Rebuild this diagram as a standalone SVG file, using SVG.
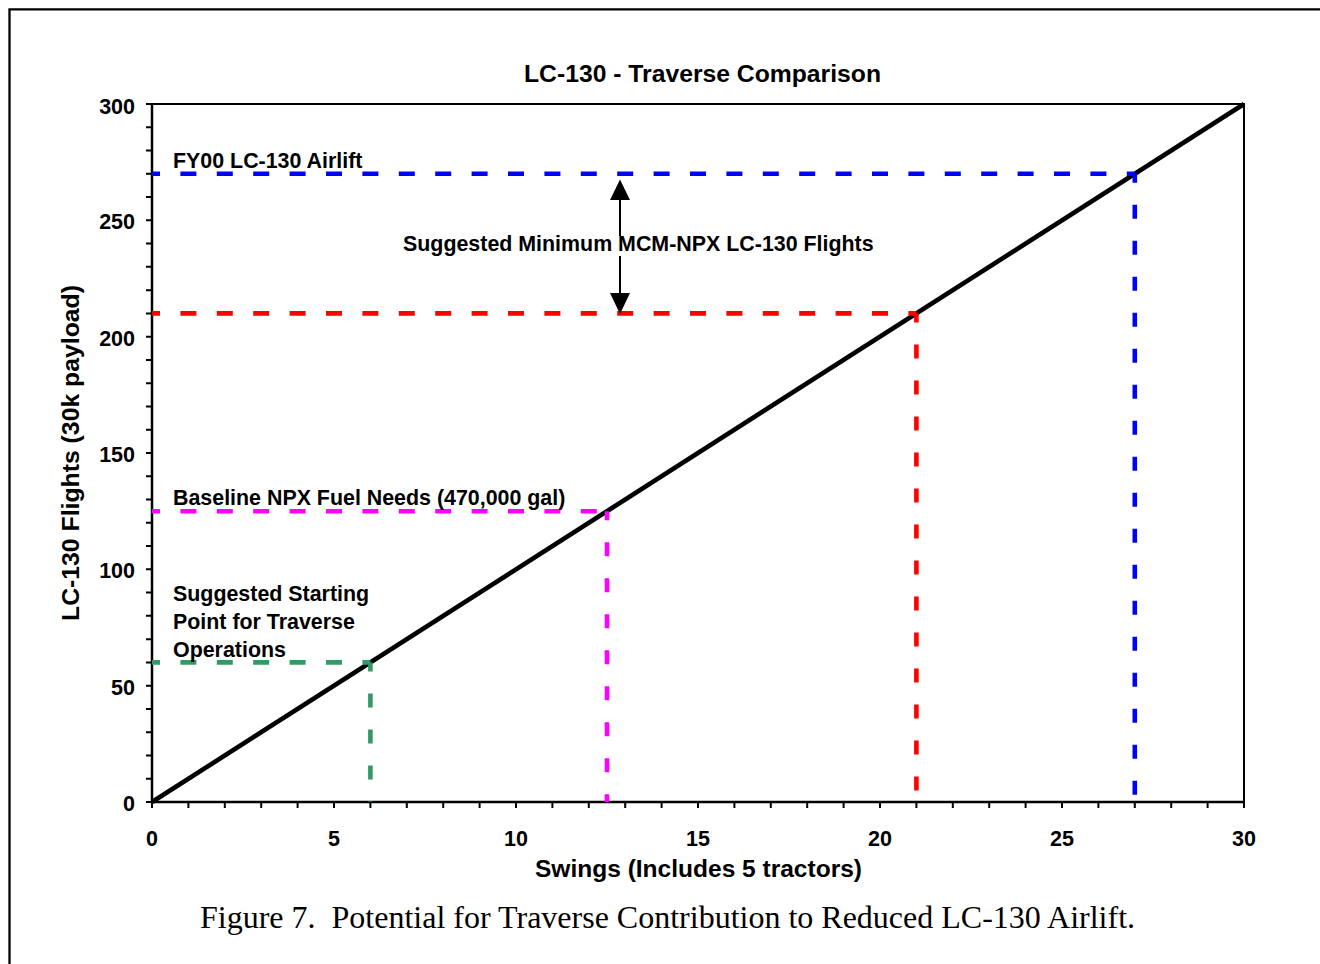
<svg xmlns="http://www.w3.org/2000/svg" width="1320" height="964" viewBox="0 0 1320 964">
<style>
.lbl{font-family:"Liberation Sans",Arial,sans-serif;font-weight:bold;font-size:21.4px;fill:#000}
.tick{font-family:"Liberation Sans",Arial,sans-serif;font-weight:bold;font-size:21.5px;fill:#000}
.ttl{font-family:"Liberation Sans",Arial,sans-serif;font-weight:bold;font-size:23px;fill:#000}
.cap{font-family:"Liberation Serif","Times New Roman",serif;font-size:32px;fill:#000}
.hd{fill:none;stroke-width:4.6;stroke-dasharray:16 20.4;stroke-dashoffset:8}
.vd{fill:none;stroke-width:4.6;stroke-dasharray:14 22;stroke-dashoffset:5}
</style>
<rect width="1320" height="964" fill="#fff"/>
<g id="frame">
<path d="M9.5 1000 V9.3 H1330" fill="none" stroke="#000" stroke-width="2.3"/>
</g>
<g id="plot-area">
<path d="M152 104 H1244 V802" fill="none" stroke="#000" stroke-width="2"/>
<path d="M152 104 V802 H1244" fill="none" stroke="#000" stroke-width="2.5"/>
<path d="M146 802H152M146 778.73H152M146 755.47H152M146 732.2H152M146 708.93H152M146 685.67H152M146 662.4H152M146 639.13H152M146 615.87H152M146 592.6H152M146 569.33H152M146 546.07H152M146 522.8H152M146 499.53H152M146 476.27H152M146 453H152M146 429.73H152M146 406.47H152M146 383.2H152M146 359.93H152M146 336.67H152M146 313.4H152M146 290.13H152M146 266.87H152M146 243.6H152M146 220.33H152M146 197.07H152M146 173.8H152M146 150.53H152M146 127.27H152M146 104H152" stroke="#000" stroke-width="2"/>
<path d="M152 802V808M188.4 802V808M224.8 802V808M261.2 802V808M297.6 802V808M334 802V808M370.4 802V808M406.8 802V808M443.2 802V808M479.6 802V808M516 802V808M552.4 802V808M588.8 802V808M625.2 802V808M661.6 802V808M698 802V808M734.4 802V808M770.8 802V808M807.2 802V808M843.6 802V808M880 802V808M916.4 802V808M952.8 802V808M989.2 802V808M1025.6 802V808M1062 802V808M1098.4 802V808M1134.8 802V808M1171.2 802V808M1207.6 802V808M1244 802V808" stroke="#000" stroke-width="2"/>
</g>
<g id="y-tick-labels" text-anchor="end">
<text class="tick" x="135" y="811">0</text>
<text class="tick" x="135" y="694.7">50</text>
<text class="tick" x="135" y="578.3">100</text>
<text class="tick" x="135" y="462">150</text>
<text class="tick" x="135" y="345.7">200</text>
<text class="tick" x="135" y="229.3">250</text>
<text class="tick" x="135" y="114">300</text>
</g>
<g id="x-tick-labels" text-anchor="middle">
<text class="tick" x="152" y="846">0</text>
<text class="tick" x="334" y="846">5</text>
<text class="tick" x="516" y="846">10</text>
<text class="tick" x="698" y="846">15</text>
<text class="tick" x="880" y="846">20</text>
<text class="tick" x="1062" y="846">25</text>
<text class="tick" x="1244" y="846">30</text>
</g>
<g id="titles">
<text class="ttl" x="702.5" y="82" text-anchor="middle" textLength="357" lengthAdjust="spacingAndGlyphs">LC-130 - Traverse Comparison</text>
<text class="ttl" x="698.5" y="876.5" text-anchor="middle" textLength="327" lengthAdjust="spacingAndGlyphs">Swings (Includes 5 tractors)</text>
<text class="ttl" transform="translate(79,453) rotate(-90)" text-anchor="middle" textLength="336" lengthAdjust="spacingAndGlyphs">LC-130 Flights (30k payload)</text>
</g>
<g id="series-line">
<path d="M152 802 L1244 104" stroke="#000" stroke-width="4.6" fill="none"/>
</g>
<g id="fy00-airlift">
<path class="hd" d="M152 173.8 H1134.8" stroke="#0000ff"/>
<path class="vd" d="M1134.8 173.8 V802" stroke="#0000ff"/>
<text class="lbl" x="173" y="168">FY00 LC-130 Airlift</text>
</g>
<g id="suggested-minimum">
<path class="hd" d="M152 313.4 H916.4" stroke="#ff0000"/>
<path class="vd" d="M916.4 313.4 V802" stroke="#ff0000"/>
</g>
<g id="baseline-npx">
<path class="hd" d="M152 511.2 H607" stroke="#ff00ff"/>
<path class="vd" d="M607 511.2 V802" stroke="#ff00ff"/>
<text class="lbl" x="173" y="505">Baseline NPX Fuel Needs (470,000 gal)</text>
</g>
<g id="starting-point">
<path class="hd" d="M152 662.4 H370.4" stroke="#339966"/>
<path class="vd" d="M370.4 662.4 V802" stroke="#339966"/>
<text class="lbl" x="173" y="601">Suggested Starting</text>
<text class="lbl" x="173" y="629">Point for Traverse</text>
<text class="lbl" x="173" y="657">Operations</text>
</g>
<g id="connectors">
<path d="M620 198 V295" stroke="#000" stroke-width="2"/>
<polygon points="620,179.5 610,200 630,200" fill="#000"/>
<polygon points="620,314 610,293 630,293" fill="#000"/>
</g>
<g id="minimum-label">
<rect x="400" y="236" width="478" height="20" fill="#fff"/>
<text class="lbl" x="403" y="251">Suggested Minimum MCM-NPX LC-130 Flights</text>
</g>
<g id="caption">
<text class="cap" x="200" y="927.5" xml:space="preserve">Figure 7.  Potential for Traverse Contribution to Reduced LC-130 Airlift.</text>
</g>
</svg>
